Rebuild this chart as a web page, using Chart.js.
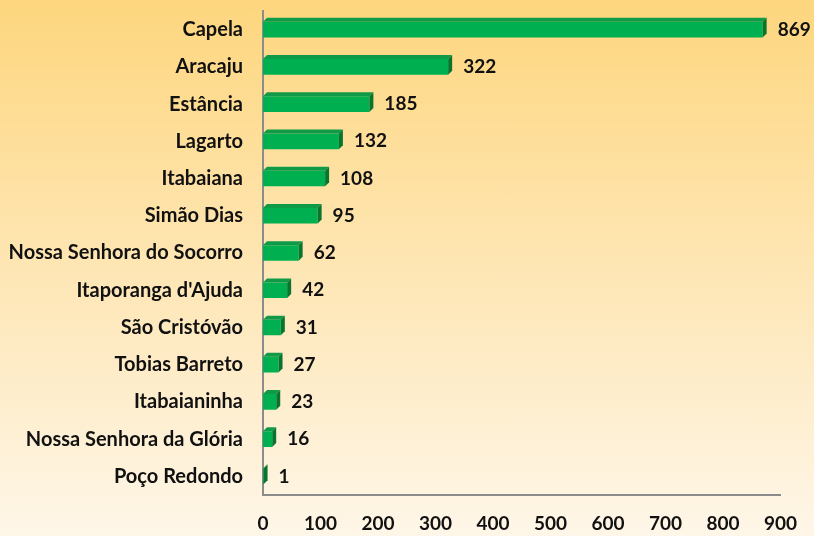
<!DOCTYPE html>
<html>
<head>
<meta charset="utf-8">
<script src="https://cdn.jsdelivr.net/npm/chart.js@4"></script>
<style>
  html, body { margin: 0; padding: 0; }
  body {
    width: 814px; height: 536px;
    background: linear-gradient(to bottom, #fdd67e 0%, #fee6b4 50%, #fef6e8 100%);
  }
  canvas { display: block; }
</style>
</head>
<body>
<canvas id="chart" width="814" height="536"></canvas>
<script>
const cities = ["Capela", "Aracaju", "Estância", "Lagarto", "Itabaiana", "Simão Dias",
  "Nossa Senhora do Socorro", "Itaporanga d'Ajuda", "São Cristóvão", "Tobias Barreto",
  "Itabaianinha", "Nossa Senhora da Glória", "Poço Redondo"];
const counts = [869, 322, 185, 132, 108, 95, 62, 42, 31, 27, 23, 16, 1];
const xTicks = [0, 100, 200, 300, 400, 500, 600, 700, 800, 900];

const fontFamily = "Lato, 'Open Sans', sans-serif";
const depth = 4;

// fake 3d: top and right faces on every bar
const bars3d = {
  id: "bars3d",
  afterDatasetsDraw(chart) {
    const ctx = chart.ctx;
    chart.getDatasetMeta(0).data.forEach((bar) => {
      const l = bar.base, r = bar.x;
      const t = bar.y - bar.height / 2, b = bar.y + bar.height / 2;
      ctx.save();
      ctx.fillStyle = "#0f9a47";
      ctx.beginPath();
      ctx.moveTo(l, t);
      ctx.lineTo(l + depth, t - depth);
      ctx.lineTo(r + depth, t - depth);
      ctx.lineTo(r, t);
      ctx.closePath();
      ctx.fill();
      ctx.fillStyle = "#08752f";
      ctx.beginPath();
      ctx.moveTo(r, t);
      ctx.lineTo(r + depth, t - depth);
      ctx.lineTo(r + depth, b - depth);
      ctx.lineTo(r, b);
      ctx.closePath();
      ctx.fill();
      ctx.restore();
    });
  }
};

// values printed right of each bar
const valueLabels = {
  id: "valueLabels",
  afterDatasetsDraw(chart) {
    const ctx = chart.ctx;
    const meta = chart.getDatasetMeta(0);
    ctx.save();
    ctx.font = "bold 19px " + fontFamily;
    ctx.fillStyle = "#111";
    ctx.textAlign = "left";
    ctx.textBaseline = "middle";
    meta.data.forEach((bar, i) => {
      ctx.fillText(counts[i], bar.x + depth + 11, bar.y);
    });
    ctx.restore();
  }
};

new Chart(document.getElementById("chart"), {
  type: "bar",
  data: {
    labels: cities,
    datasets: [{
      data: counts,
      backgroundColor: "#00b050",
      borderWidth: 0,
      categoryPercentage: 1,
      barPercentage: 0.42,
    }],
  },
  options: {
    indexAxis: "y",
    responsive: false,
    animation: false,
    layout: { padding: { top: 11, right: 33, left: 0, bottom: 0 } },
    plugins: {
      legend: { display: false },
      tooltip: { enabled: false },
    },
    scales: {
      x: {
        min: 0,
        max: 900,
        afterBuildTicks: (s) => { s.ticks = xTicks.map(v => ({ value: v })); },
        afterFit: (s) => { s.height = 41; },
        grid: { display: false, drawTicks: false },
        border: { color: "#8c8c8c", width: 2 },
        ticks: {
          padding: 17,
          color: "#111",
          font: { family: fontFamily, size: 19, weight: "bold" },
        },
      },
      y: {
        afterFit: (s) => { s.width = 263; s.paddingTop = 0; s.paddingBottom = 0; },
        grid: { display: false, drawTicks: false },
        border: { color: "#8c8c8c", width: 2 },
        ticks: {
          padding: 20,
          color: "#111",
          font: { family: fontFamily, size: 20, weight: "bold" },
        },
      },
    },
  },
  plugins: [bars3d, valueLabels],
});
</script>
</body>
</html>
